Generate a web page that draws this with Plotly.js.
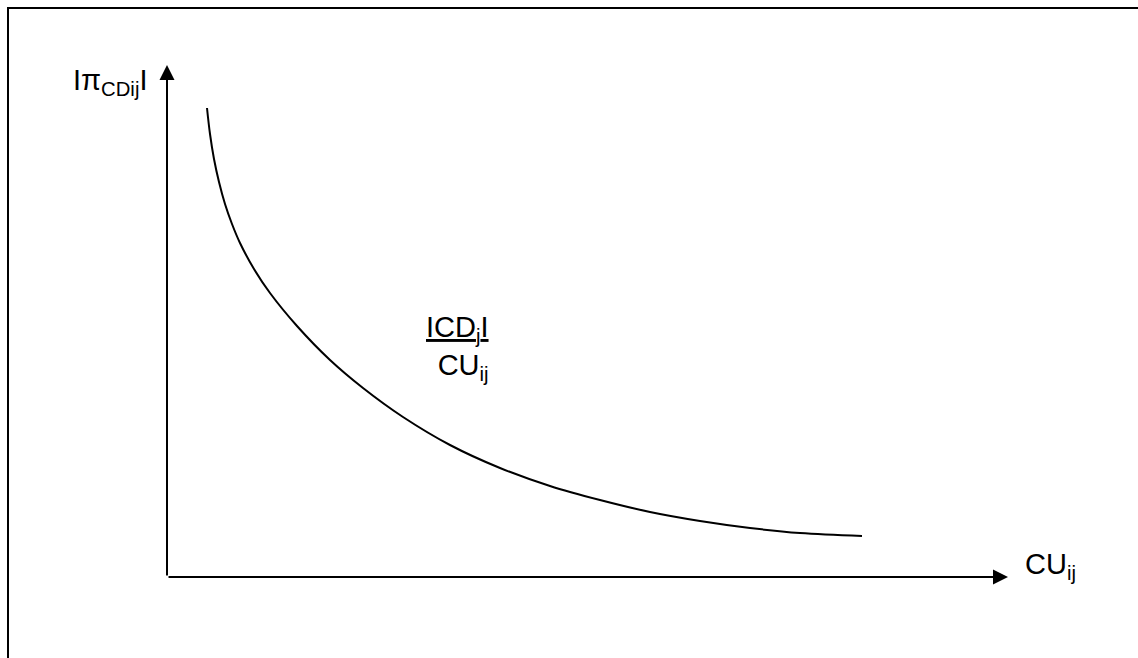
<!DOCTYPE html>
<html>
<head>
<meta charset="utf-8">
<script src="https://cdn.plot.ly/plotly-3.0.1.min.js"></script>
<style>html,body{margin:0;padding:0;background:#fff;}#chart{width:1138px;height:658px;}</style>
</head>
<body>
<div id="chart"></div>
<script>
// Curve values (arbitrary units)
const cuValues = [40, 43, 47, 52, 58, 65, 73, 87, 103, 130, 163, 196, 236, 283, 333, 383, 433, 483, 533, 583, 633, 695];
const piValues = [469, 443, 418, 395, 373, 353, 334, 308, 284, 251, 217, 189, 160, 132, 109, 91, 77, 65, 56, 49, 44, 41];
// Axis extents (arbitrary units)
const xMax = 841;
const yMax = 512;
// Labels
const yLabel = 'Iπ<sub>CDij</sub>I';
const xLabel = 'CU<sub>ij</sub>';
const curveLabel = '<u>ICD<sub>j</sub>I</u><br>CU<sub>ij</sub>';

const W = 1138, H = 658;
const M = {l: 167, r: 130, t: 65, b: 81};
const pw = W - M.l - M.r, ph = H - M.t - M.b;
const px = v => (v - M.l) / pw;
const py = v => (H - M.b - v) / ph;
const font = {family: 'Liberation Sans, Arial, sans-serif', size: 29, color: '#000'};

const data = [{
  x: cuValues, y: piValues, type: 'scatter', mode: 'lines',
  line: {color: '#000', width: 2, shape: 'spline', smoothing: 1},
  hoverinfo: 'skip', showlegend: false
}];

const layout = {
  width: W, height: H,
  margin: M,
  paper_bgcolor: '#fff', plot_bgcolor: '#fff',
  showlegend: false,
  xaxis: {range: [0, xMax], visible: false, fixedrange: true},
  yaxis: {range: [0, yMax], visible: false, fixedrange: true},
  shapes: [{
    type: 'rect', xref: 'paper', yref: 'paper',
    x0: px(8), x1: 1.3, y0: -0.4, y1: py(8),
    line: {color: '#000', width: 2}, fillcolor: 'rgba(0,0,0,0)', layer: 'below'
  }],
  annotations: [
    {x: xMax, y: 0, xref: 'x', yref: 'y', axref: 'x', ayref: 'y', ax: 0, ay: 0,
     showarrow: true, arrowhead: 2, arrowwidth: 2, arrowsize: 1.5, arrowcolor: '#000', text: '', standoff: 0},
    {x: 0, y: yMax, xref: 'x', yref: 'y', axref: 'x', ayref: 'y', ax: 0, ay: 0,
     showarrow: true, arrowhead: 2, arrowwidth: 2, arrowsize: 1.5, arrowcolor: '#000', text: '', standoff: 0},
    {x: px(71), y: py(82), xref: 'paper', yref: 'paper', xanchor: 'left', yanchor: 'middle',
     showarrow: false, text: yLabel, font: font},
    {x: px(1023), y: py(566), xref: 'paper', yref: 'paper', xanchor: 'left', yanchor: 'middle',
     showarrow: false, text: xLabel, font: font},
    {x: px(491), y: py(348), xref: 'paper', yref: 'paper', xanchor: 'right', yanchor: 'middle', align: 'right',
     showarrow: false, text: curveLabel, font: font}
  ]
};

Plotly.newPlot('chart', data, layout, {staticPlot: true, displayModeBar: false});
</script>
</body>
</html>
